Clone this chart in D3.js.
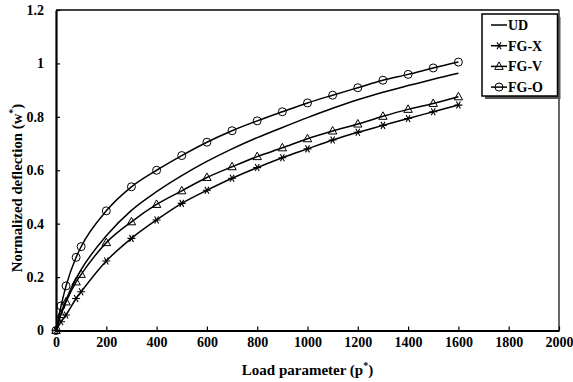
<!DOCTYPE html>
<html><head><meta charset="utf-8">
<script src="https://cdn.jsdelivr.net/npm/d3@7"></script>
<style>body{margin:0;background:#fff}svg{display:block}text{font-family:"Liberation Serif","Times New Roman",serif;font-weight:bold}</style>
</head><body><svg id="c" width="573" height="382"></svg>
<script>
const loads = [0,20,40,80,100,200,300,400,500,600,700,800,900,1000,1100,1200,1300,1400,1500,1600];
const ud  = [0,0.065,0.115,0.195,0.228,0.355,0.45,0.52,0.58,0.633,0.68,0.722,0.76,0.797,0.832,0.864,0.892,0.917,0.941,0.963];
const fgx = [0,0.033,0.058,0.12,0.145,0.26,0.345,0.414,0.476,0.525,0.570,0.610,0.647,0.680,0.713,0.742,0.768,0.794,0.819,0.844];
const fgv = [0,0.06,0.107,0.182,0.21,0.329,0.407,0.472,0.523,0.573,0.613,0.651,0.684,0.718,0.747,0.773,0.802,0.828,0.850,0.875];
const fgo = [0,0.092,0.167,0.274,0.314,0.448,0.538,0.600,0.655,0.705,0.748,0.785,0.819,0.852,0.881,0.909,0.937,0.959,0.983,1.005];
const xTicks = [0,200,400,600,800,1000,1200,1400,1600,1800,2000];
const yTicks = [0,0.2,0.4,0.6,0.8,1,1.2];
const seriesNames = ["UD","FG-X","FG-V","FG-O"];
const seriesValues = [ud,fgx,fgv,fgo];
const seriesMarkers = ["none","star","triangle","circle"];

const svg = d3.select("#c");
const x = d3.scaleLinear().domain([0,2000]).range([56,559]);
const y = d3.scaleLinear().domain([0,1.2]).range([330.5,10]);

// frame
svg.append("line").attr("x1",x(0)).attr("x2",x(2000)).attr("y1",y(1.2)).attr("y2",y(1.2)).attr("stroke","#000").attr("stroke-width",1.5);
svg.append("line").attr("x1",x(2000)).attr("x2",x(2000)).attr("y1",y(1.2)).attr("y2",y(0)).attr("stroke","#000").attr("stroke-width",1.2);

const xa = svg.append("g").attr("transform",`translate(0,${y(0)})`)
  .call(d3.axisBottom(x).tickValues(xTicks).tickSizeInner(-4).tickSizeOuter(0).tickPadding(7).tickFormat(d3.format("d")));
const ya = svg.append("g").attr("transform",`translate(${x(0)},0)`)
  .call(d3.axisLeft(y).tickValues(yTicks).tickSizeInner(-4).tickSizeOuter(0).tickPadding(12).tickFormat(d=>String(d)));
[xa,ya].forEach(a=>{
  a.select(".domain").attr("stroke","#000").attr("stroke-width",2.2);
  a.selectAll(".tick line").attr("stroke","#000").attr("stroke-width",1.2);
  a.selectAll(".tick text").attr("fill","#000").style("font-size","14px").style("font-family","Liberation Serif").style("font-weight","bold");
});
xa.selectAll(".tick text").attr("dy","0.71em");

// axis titles
const xt = svg.append("text").attr("x",307.5).attr("y",375).attr("text-anchor","middle").style("font-size","15px");
xt.append("tspan").text("Load parameter (p");
xt.append("tspan").text("*").attr("dy",-6).style("font-size","10px");
xt.append("tspan").text(")").attr("dy",6);
const yt = svg.append("text").attr("transform","translate(22,188) rotate(-90)").attr("text-anchor","middle").style("font-size","14.8px");
yt.append("tspan").text("Normalized deflection (w");
yt.append("tspan").text("*").attr("dy",-6).style("font-size","10px");
yt.append("tspan").text(")").attr("dy",6);

const line = d3.line().x(d=>x(d[0])).y(d=>y(d[1])).curve(d3.curveMonotoneX);
const g = svg.append("g");

function marker(sel, type){
  if(type==="circle") sel.append("circle").attr("r",4).attr("fill","none").attr("stroke","#000").attr("stroke-width",1);
  else if(type==="triangle") sel.append("path").attr("d","M0,-4.5L4.2,3L-4.2,3Z").attr("fill","none").attr("stroke","#000").attr("stroke-width",1);
  else if(type==="star") sel.append("path").attr("d","M-4,0L4,0M-2,-3.5L2,3.5M2,-3.5L-2,3.5").attr("fill","none").attr("stroke","#000").attr("stroke-width",1.1);
}

seriesValues.forEach((vals,i)=>{
  const pts = loads.map((l,k)=>[l,vals[k]]);
  g.append("path").attr("d",line(pts)).attr("fill","none").attr("stroke","#000").attr("stroke-width",1.5);
  if(seriesMarkers[i]!=="none"){
    pts.forEach(p=>{
      const m = g.append("g").attr("transform",`translate(${x(p[0])},${y(p[1])})`);
      marker(m, seriesMarkers[i]);
    });
  }
});

// legend
const lg = svg.append("g");
lg.append("rect").attr("x",485).attr("y",17).attr("width",75.5).attr("height",82).attr("fill","#555");
lg.append("rect").attr("x",482).attr("y",14).attr("width",75.5).attr("height",82).attr("fill","#fff").attr("stroke","#000").attr("stroke-width",1.5);
seriesNames.forEach((n,i)=>{
  const yy = 25 + i*20.7;
  lg.append("line").attr("x1",491).attr("x2",507).attr("y1",yy).attr("y2",yy).attr("stroke","#000").attr("stroke-width",1.5);
  if(seriesMarkers[i]!=="none"){ const m=lg.append("g").attr("transform",`translate(499,${yy})`); marker(m,seriesMarkers[i]); }
  lg.append("text").attr("x",508).attr("y",yy+5).style("font-size","14px").text(n);
});
</script></body></html>
